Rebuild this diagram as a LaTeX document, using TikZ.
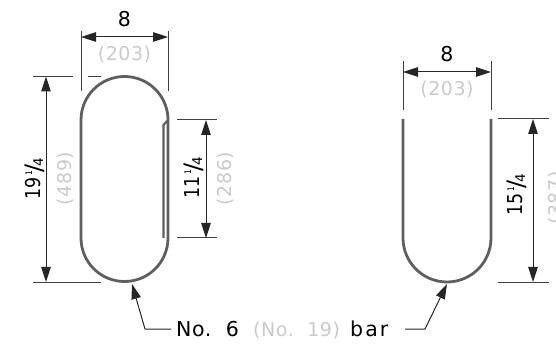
\documentclass[tikz,border=0pt]{standalone}
\usepackage{fontspec}
\setmainfont[LetterSpace=3,WordSpace=1.7]{DejaVu Sans}
\newfontfamily\narrowdigits[FakeStretch=0.85]{DejaVu Sans}
\usetikzlibrary{arrows.meta}
\definecolor{barc}{HTML}{5F5F5F}
\definecolor{mm}{HTML}{CACACA}
\newcommand{\fr}[1]{{\narrowdigits #1}\kern1.5pt\raisebox{8pt}{\narrowdigits\fontsize{9}{9}\selectfont 1}\kern-1pt\raisebox{-2.5pt}{\fontsize{24}{24}\selectfont /}\kern-3pt\raisebox{-3pt}{\fontsize{13.5}{13.5}\selectfont 4}}
\tikzset{
  bar/.style={draw=barc,line width=2.8pt},
  barthin/.style={draw=barc,line width=2.2pt},
  dimline/.style={draw=black!85,line width=1pt,{Triangle[length=15pt,width=9.5pt]}-{Triangle[length=15pt,width=9.5pt]}},
  leader/.style={draw=black!85,line width=1pt,{Triangle[length=15pt,width=9.5pt]}-},
  extline/.style={draw=black!75,line width=1pt},
  inch/.style={inner sep=0pt,anchor=base,text=black,font=\fontsize{20.5}{20.5}\selectfont},
  metric/.style={inner sep=0pt,anchor=base,text=mm,font=\fontsize{19}{19}\selectfont},
  label/.style={inner sep=0pt,anchor=base west,font=\fontsize{20.5}{20.5}\selectfont}
}
\begin{document}
\begin{tikzpicture}[x=1pt,y=-1pt]
\useasboundingbox (0,0) rectangle (556,344);
\clip (0,0) rectangle (556,344);
% left bar
\draw[bar] (168,120) arc[start angle=0,end angle=-180,radius=43.5] -- (81,238)
  arc[start angle=180,end angle=0,radius=43.5] -- cycle;
\draw[barthin] (168,120) -- (163.5,125) -- (163.5,238);
% left top dimension
\coordinate (a1) at (81,37); \coordinate (a2) at (168,37);
\draw[extline] (81,31) -- (81,91);
\draw[extline] (168,31) -- (168,91);
\draw[dimline] (a1) -- (a2);
\node[inch] (t8a) at (124.5,27) {8};
\node[metric] (m203a) at (124.5,61) {(203)};
% left vertical dimension
\coordinate (b1) at (46,76.5); \coordinate (b2) at (46,282);
\draw[extline] (33,76.5) -- (73,76.5);
\draw[extline] (88,76.5) -- (101,76.5);
\draw[extline] (33,282) -- (101,282);
\draw[dimline] (b1) -- (b2);
\node[inch,rotate=90] (t19) at (40,179) {\fr{19}};
\node[metric,rotate=90] (m489) at (71,178.5) {(489)};
% inner dimension
\coordinate (c1) at (206,120); \coordinate (c2) at (206,238);
\draw[extline] (177,120) -- (217,120);
\draw[extline] (177,238) -- (217,238);
\draw[dimline] (c1) -- (c2);
\node[inch,rotate=90] (t11) at (199,178) {\fr{11}};
\node[metric,rotate=90] (m286) at (231,178.5) {(286)};
% right bar
\draw[bar] (403,119) -- (403,238) arc[start angle=180,end angle=0,radius=44] -- (491,119);
% right top dimension
\coordinate (d1) at (403,72); \coordinate (d2) at (491,72);
\draw[extline] (403,61) -- (403,110);
\draw[extline] (491,61) -- (491,110);
\draw[dimline] (d1) -- (d2);
\node[inch] (t8b) at (447,62) {8};
\node[metric] (m203b) at (447,96) {(203)};
% right vertical dimension
\coordinate (e1) at (533,119); \coordinate (e2) at (533,282);
\draw[extline] (498,119) -- (549,119);
\draw[extline] (498,282) -- (549,282);
\draw[dimline] (e1) -- (e2);
\node[inch,rotate=90] (t15) at (522,195) {\fr{15}};
\node[metric,rotate=90] (m387) at (562,198) {(387)};
% label and leaders
\node[label] (no6) at (176,336.5) {No. 6};
\node[label,text=mm,font=\fontsize{19}{19}\selectfont] (no19) at (253,336.5) {(No. 19)};
\node[label,font=\fontsize{20.5}{20.5}\selectfont\addfontfeature{LetterSpace=10}] (barl) at (350,336.5) {bar};
\coordinate (tipl) at (132,284); \coordinate (tipr) at (447,284);
\coordinate (kl) at (145,329); \coordinate (kr) at (425,329);
\draw[leader] (tipl) -- (kl) -- (171,329);
\draw[leader] (tipr) -- (kr) -- (405,329);
\end{tikzpicture}
\end{document}
